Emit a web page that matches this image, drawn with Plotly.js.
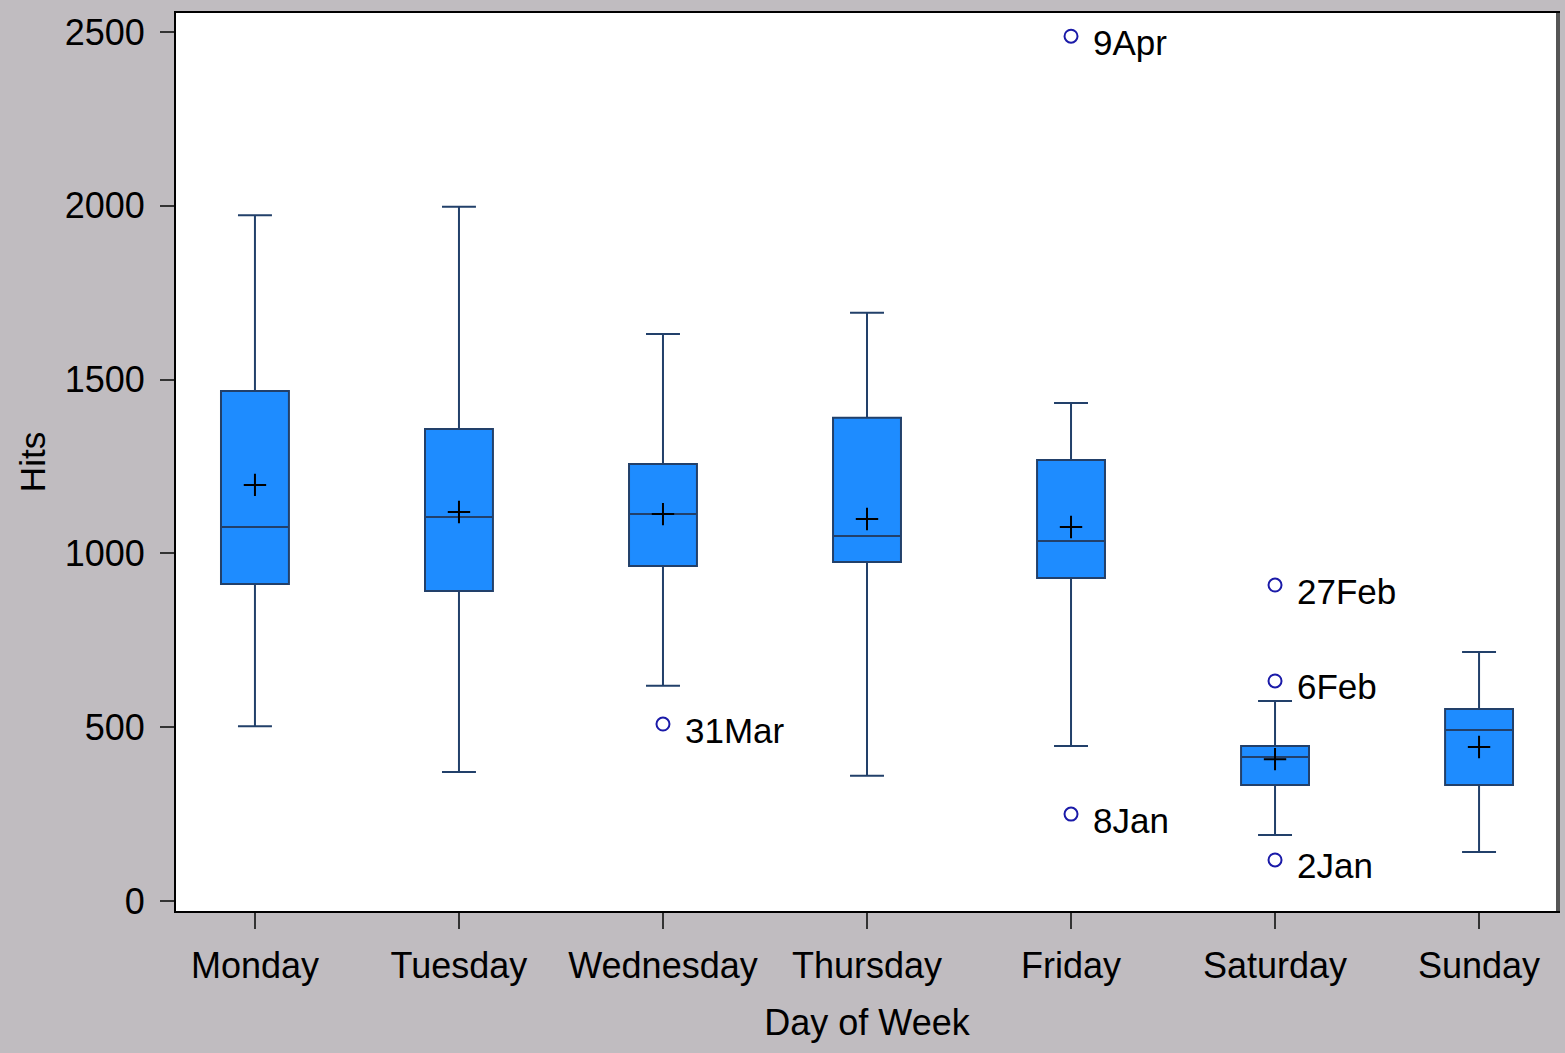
<!DOCTYPE html>
<html>
<head>
<meta charset="utf-8">
<script src="https://cdn.plot.ly/plotly-3.0.1.min.js"></script>
<style>
html,body{margin:0;padding:0;background:#c0bcc0;}
#chart{width:1565px;height:1053px;}
</style>
</head>
<body>
<div id="chart"></div>
<script>
// Data
const days = ["Monday","Tuesday","Wednesday","Thursday","Friday","Saturday","Sunday"];
const q1 = [912, 892, 964, 975, 929, 334, 334];
const medians = [1076, 1105, 1113, 1050, 1036, 414, 492];
const q3 = [1467, 1358, 1257, 1390, 1269, 446, 552];
const lowerWhisker = [503, 371, 619, 360, 446, 190, 141];
const upperWhisker = [1973, 1997, 1631, 1692, 1433, 575, 716];
const means = [1197, 1119, 1113, 1099, 1076, 408, 443];

const outlierDays = ["Wednesday","Friday","Friday","Saturday","Saturday","Saturday"];
const outlierValues = [509, 2488, 250, 909, 633, 118];
const outlierLabels = ["31Mar","9Apr","8Jan","27Feb","6Feb","2Jan"];

const yTicks = [0, 500, 1000, 1500, 2000, 2500];

const font = "'Liberation Sans', Arial, sans-serif";

const traces = [
  {
    type: "box",
    x: days,
    q1: q1,
    median: medians,
    q3: q3,
    lowerfence: lowerWhisker,
    upperfence: upperWhisker,
    width: 0.333,
    whiskerwidth: 0.5,
    fillcolor: "#1e8cff",
    line: {color: "#22406a", width: 2},
    hoverinfo: "skip",
    showlegend: false
  },
  {
    type: "scatter",
    mode: "markers",
    x: days,
    y: means,
    marker: {symbol: "cross-thin", size: 16, line: {color: "#000000", width: 2}},
    showlegend: false,
    hoverinfo: "skip"
  },
  {
    type: "scatter",
    mode: "markers",
    x: outlierDays,
    y: outlierValues,
    marker: {symbol: "circle-open", size: 13, line: {color: "#1a1aa8", width: 2}, color: "#1a1aa8"},
    showlegend: false,
    hoverinfo: "skip",
    cliponaxis: false
  }
];

const annotations = outlierLabels.map((t, i) => ({
  x: outlierDays[i],
  y: outlierValues[i],
  xref: "x",
  yref: "y",
  text: t,
  showarrow: false,
  xanchor: "left",
  yanchor: "middle",
  xshift: 20,
  yshift: -6,
  font: {family: font, size: 35, color: "#000000"}
}));

const layout = {
  width: 1565,
  height: 1053,
  paper_bgcolor: "#c0bcc0",
  plot_bgcolor: "#ffffff",
  margin: {l: 176, r: 7, t: 13, b: 142},
  font: {family: font, size: 36, color: "#000000"},
  showlegend: false,
  annotations: annotations,
  xaxis: {
    type: "category",
    categoryorder: "array",
    categoryarray: days,
    range: [-0.387, 6.387],
    showgrid: false,
    zeroline: false,
    showline: true,
    linecolor: "#000000",
    linewidth: 2,
    mirror: true,
    ticks: "outside",
    ticklen: 16,
    tickwidth: 2,
    tickcolor: "#333333",
    ticklabelstandoff: 6,
    tickfont: {family: font, size: 36, color: "#000000"},
    title: {text: "Day of Week", font: {family: font, size: 36, color: "#000000"}, standoff: 25}
  },
  yaxis: {
    range: [-28.8, 2554.7],
    tickvals: yTicks,
    ticktext: yTicks.map(String),
    showgrid: false,
    zeroline: false,
    showline: true,
    linecolor: "#000000",
    linewidth: 2,
    mirror: true,
    ticks: "outside",
    ticklen: 14,
    tickwidth: 2,
    tickcolor: "#333333",
    ticklabelstandoff: 8,
    tickfont: {family: font, size: 36, color: "#000000"},
    title: {text: "Hits", font: {family: font, size: 35, color: "#000000"}, standoff: 8}
  },
  shapes: [
    {type: "line", xref: "paper", yref: "paper", x0: 1, x1: 1, y0: 0, y1: 1, line: {color: "#555555", width: 4}}
  ]
};

Plotly.newPlot("chart", traces, layout, {displayModeBar: false, staticPlot: true});
</script>
</body>
</html>
